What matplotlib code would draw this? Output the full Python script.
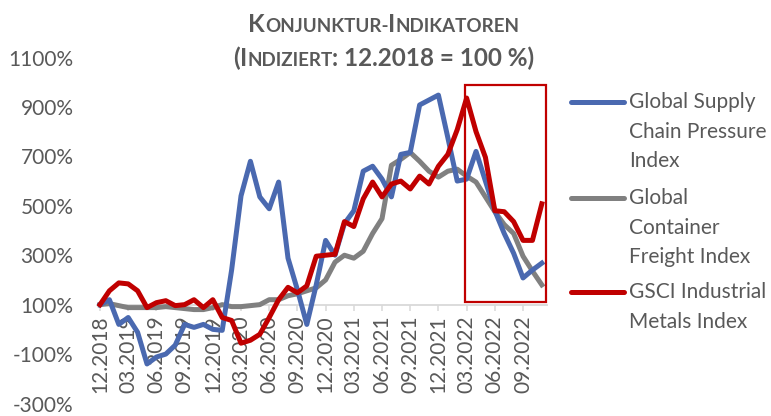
import matplotlib
matplotlib.use("Agg")
import matplotlib.pyplot as plt
from matplotlib.lines import Line2D
from matplotlib.patches import Rectangle
from matplotlib.offsetbox import TextArea, HPacker, AnnotationBbox

plt.rcParams['font.family'] = ['Lato', 'DejaVu Sans']

# ---- data (monthly, 12.2018 .. 11.2022, indexed 12.2018 = 100 %) ----
gscpi = [100, 120, 20, 48, -12, -140, -112, -100, -64, 20, 8, 20, 0, -4, 240, 540,
         680, 536, 488, 596, 288, 160, 20, 180, 360, 300, 428, 480, 640, 660, 608, 536,
         708, 716, 908, 928, 948, 776, 600, 608, 720, 600, 480, 388, 308, 208, 240, 268]
freight = [100, 104, 96, 88, 88, 88, 88, 92, 88, 84, 80, 80, 88, 100, 92, 92,
           96, 100, 120, 120, 136, 144, 156, 168, 200, 272, 300, 288, 316, 388, 448, 664,
           688, 716, 680, 640, 616, 640, 648, 620, 596, 536, 476, 424, 388, 296, 236, 180]
metals = [100, 156, 188, 184, 156, 88, 108, 116, 96, 100, 120, 88, 120, 48, 36, -56,
          -44, -20, 48, 120, 170, 148, 176, 296, 300, 304, 436, 416, 528, 596, 536, 588,
          600, 568, 620, 588, 660, 708, 808, 936, 800, 696, 480, 476, 436, 360, 360, 508]
tick_labels = ["12.2018", "03.2019", "06.2019", "09.2019", "12.2019", "03.2020",
               "06.2020", "09.2020", "12.2020", "03.2021", "06.2021", "09.2021",
               "12.2021", "03.2022", "06.2022", "09.2022"]
series_names = ["Global Supply\nChain Pressure\nIndex",
                "Global\nContainer\nFreight Index",
                "GSCI Industrial\nMetals Index"]
highlight_x = (38.8, 47.4)
highlight_y = (110, 990)

BLUE = "#4A69B0"
GRAY = "#808080"
RED = "#C00000"
TXT = "#595959"
AX = "#D9D9D9"

W, H = 771, 416
fig = plt.figure(figsize=(W / 100, H / 100), dpi=100)
ax = fig.add_axes([97 / W, 12.5 / H, 450 / W, 346 / H])

x = list(range(len(gscpi)))
lw = 3.6
ax.plot(x, freight, color=GRAY, lw=lw, solid_joinstyle='round', zorder=3)
ax.plot(x, gscpi, color=BLUE, lw=lw, solid_joinstyle='round', zorder=4)
ax.plot(x, metals, color=RED, lw=lw, solid_joinstyle='round', zorder=5)

ax.add_patch(Rectangle((highlight_x[0], highlight_y[0]), highlight_x[1] - highlight_x[0],
                       highlight_y[1] - highlight_y[0], fill=False, edgecolor=RED,
                       lw=1.6, zorder=6, clip_on=False))

ax.set_xlim(-0.32, 47.55)
ax.set_ylim(-300, 1100)
ax.set_yticks(range(-300, 1101, 200))
ax.set_yticklabels([f"{v}%" for v in range(-300, 1101, 200)])
ax.set_xticks(range(0, 3 * len(tick_labels), 3))
ax.set_xticklabels(tick_labels)

for s in ['top', 'right', 'left']:
    ax.spines[s].set_visible(False)
ax.spines['bottom'].set_position(('data', 100))
ax.spines['bottom'].set_color(AX)
ax.spines['bottom'].set_linewidth(1.3)
ax.spines['bottom'].set_zorder(1)

ax.tick_params(axis='y', length=0, pad=17, labelsize=15, labelcolor=TXT)
ax.tick_params(axis='x', length=4.5, width=1.1, color=AX, direction='out', pad=3.5,
               labelsize=15, labelcolor=TXT, labelrotation=90)
for lab in ax.get_xticklabels():
    lab.set_rotation(90)
    lab.set_ha('center')
    lab.set_va('top')
ax.set_facecolor('none')

# ---- title with small caps ----
def sc_line(parts, big, small):
    kids = []
    for t, is_big in parts:
        kids.append(TextArea(t, textprops=dict(size=big if is_big else small,
                                               weight='bold', color=TXT)))
    return HPacker(children=kids, align='baseline', pad=0, sep=0)

big, small = 17.5, 13.5
l1 = sc_line([("K", 1), ("ONJUNKTUR-", 0), ("I", 1), ("NDIKATOREN", 0)], big, small)
l2 = sc_line([("(", 1), ("I", 1), ("NDIZIERT", 0), (": 12.2018 = 100 %)", 1)], big, small)
for box, yc in ((l1, 24), (l2, 58)):
    fig.add_artist(AnnotationBbox(box, (384 / W, 1 - yc / H), xycoords='figure fraction',
                                  frameon=False, box_alignment=(0.5, 0.5), pad=0))

# ---- legend (handle aligned with first text line) ----
leg_rows = [(BLUE, series_names[0], 102), (GRAY, series_names[1], 198), (RED, series_names[2], 292)]
for col, name, y0 in leg_rows:
    yf = 1 - y0 / H
    fig.add_artist(Line2D([571 / W, 624 / W], [yf, yf], transform=fig.transFigure,
                          color=col, lw=3.6, solid_capstyle='round'))
    for k, line in enumerate(name.split("\n")):
        fig.text(629 / W, 1 - (y0 + 29.5 * k) / H, line, ha='left', va='center',
                 fontsize=15, color=TXT)

fig.savefig("out.png", dpi=100)
